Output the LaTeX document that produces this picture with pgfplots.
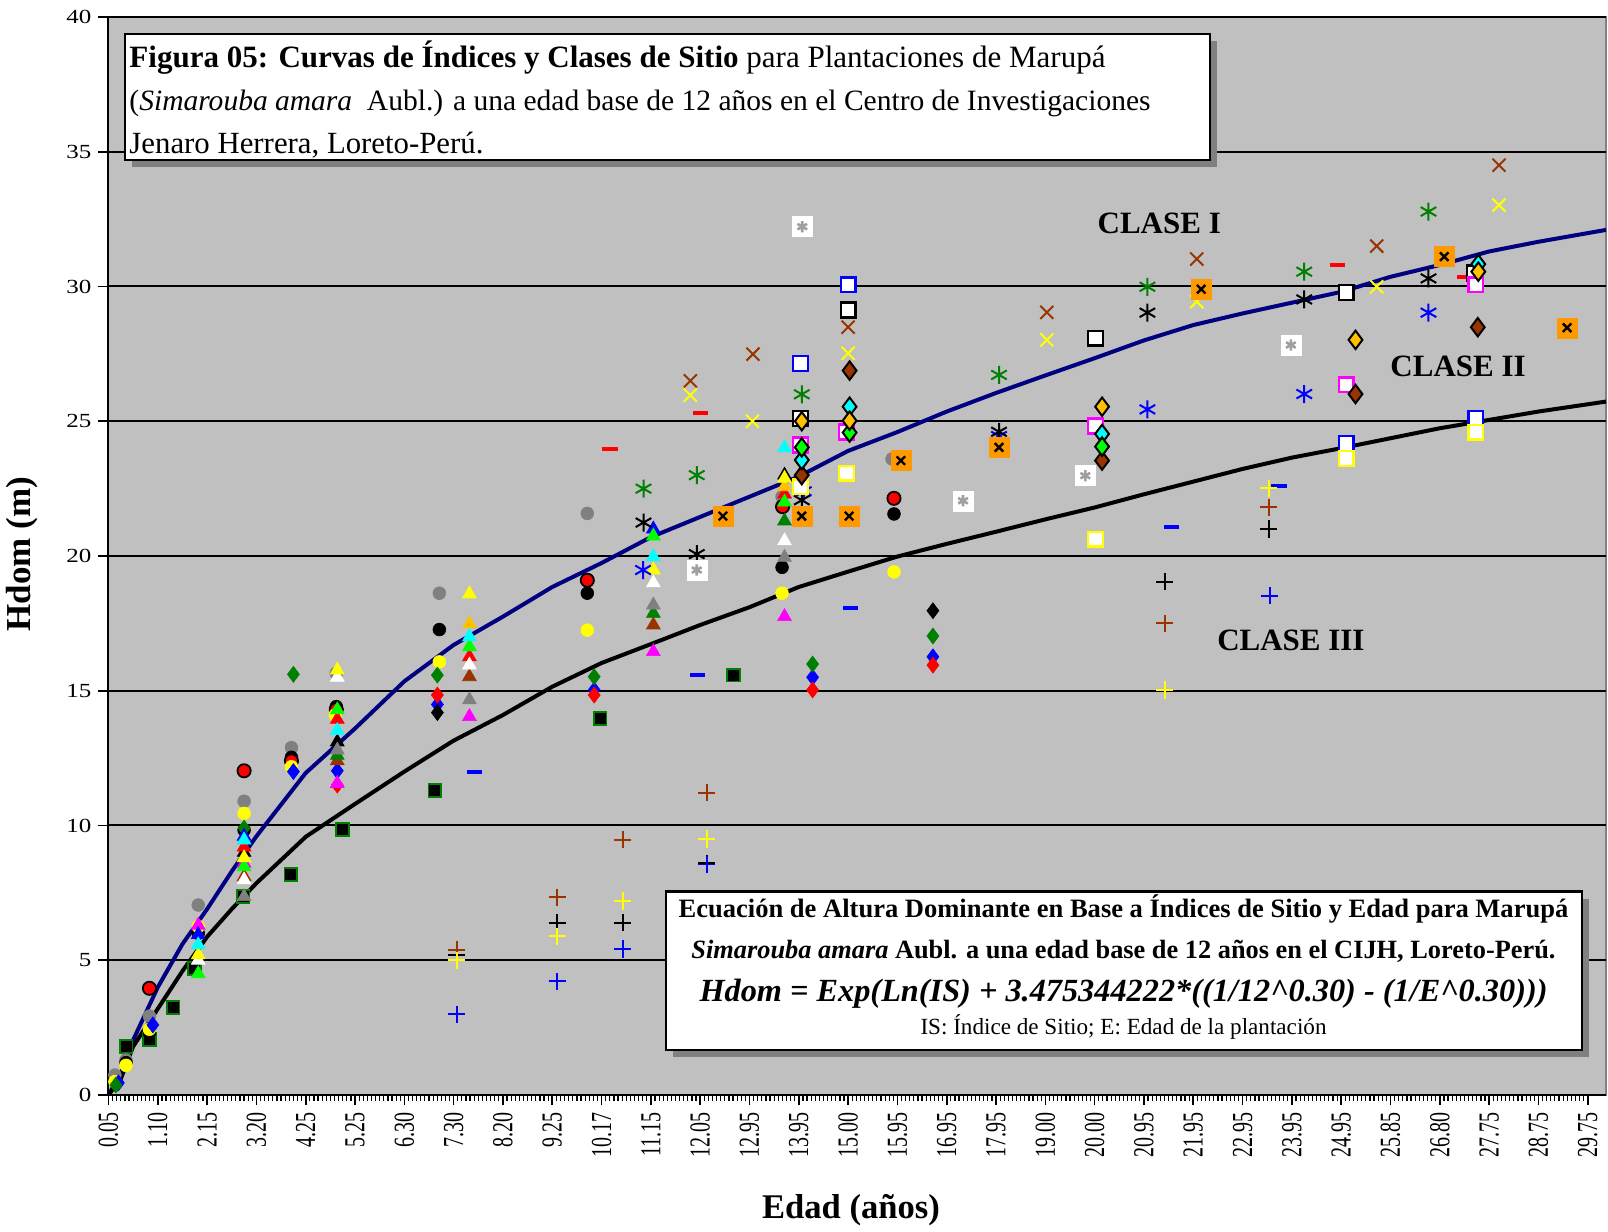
\documentclass[border=0pt]{standalone}
\usepackage{fontspec}
\setmainfont{Liberation Serif}
\usepackage{graphicx}
\usepackage{pgfplots}
\pgfplotsset{compat=1.18}

\definecolor{bgc}{HTML}{C0C0C0}
\definecolor{shad}{HTML}{808080}
\definecolor{navy}{HTML}{000080}
\definecolor{dgreen}{HTML}{008000}
\definecolor{lgreen}{HTML}{00FF00}
\definecolor{brn}{HTML}{993300}
\definecolor{gold}{HTML}{FFC000}
\definecolor{orng}{HTML}{FF9900}
\definecolor{gry}{HTML}{808080}
\definecolor{lgry}{HTML}{A0A0A0}
\definecolor{cyn}{HTML}{00FFFF}
\definecolor{mag}{HTML}{FF00FF}
\definecolor{yel}{HTML}{FFFF00}
\definecolor{blu}{HTML}{0000FF}
\definecolor{rd}{HTML}{FF0000}

\newcommand{\xl}[1]{\scalebox{1}[1.45]{#1}}
\newcommand{\yl}[1]{\scalebox{1.25}[1]{#1}}

\pgfplotsset{
 mcirc/.style={only marks, mark=*, mark size=3.2pt, mark options={solid, fill=#1, draw=#1, line width=0.3pt}},
 mcircb/.style={only marks, mark=*, mark size=3.3pt, mark options={solid, fill=#1, draw=black, line width=0.9pt}},
 mtri/.style={only marks, mark=triangle*, mark size=4pt, mark options={solid, fill=#1, draw=#1, line width=0.3pt}},
 mdia/.style={only marks, mark=diamond*, mark size=4pt, mark options={solid, fill=#1, draw=#1, line width=0.3pt}},
 mdiao/.style={only marks, mark=diamond*, mark size=4.6pt, mark options={solid, fill=#1, draw=black, line width=1pt}},
 msqo/.style={only marks, mark=square*, mark size=3.7pt, mark options={solid, fill=white, draw=#1, line width=1.2pt}},
 msqb/.style={only marks, mark=square*, mark size=3.2pt, mark options={solid, fill=black, draw=#1, line width=0.9pt}},
 msqf/.style={only marks, mark=square*, mark size=5pt, mark options={solid, fill=#1, draw=#1, line width=0.2pt}},
 mast/.style={only marks, mark=asterisk, mark size=4.5pt, mark options={solid, draw=#1, line width=1pt}},
 mx/.style={only marks, mark=x, mark size=4.6pt, mark options={solid, draw=#1, line width=1pt}},
 mplus/.style={only marks, mark=+, mark size=4.3pt, mark options={solid, draw=#1, line width=0.9pt}},
 mdash/.style={only marks, mark=-, mark size=3.8pt, mark options={solid, draw=#1, line width=2pt}},
}

\begin{document}
\begin{tikzpicture}
\useasboundingbox (-54.25pt,-68.5pt) rectangle (749.75pt,547.5pt);
\begin{axis}[
 at={(0,0)}, anchor=south west,
 scale only axis, width=748.75pt, height=539pt,
 xmin=0, xmax=30.37, ymin=0, ymax=40,
 axis background/.style={fill=bgc, draw=shad, line width=0.8pt},
 axis x line*=bottom, axis y line*=left,
 axis line style={line width=1pt, black, -},
 ytick={0,5,...,40},
 yticklabels={\yl{0},\yl{5},\yl{10},\yl{15},\yl{20},\yl{25},\yl{30},\yl{35},\yl{40}},
 ymajorgrids, grid style={black, line width=1pt},
 xtick={0,...,30},
 xticklabels={\xl{0.05},\xl{1.10},\xl{2.15},\xl{3.20},\xl{4.25},\xl{5.25},\xl{6.30},\xl{7.30},\xl{8.20},\xl{9.25},\xl{10.17},\xl{11.15},\xl{12.05},\xl{12.95},\xl{13.95},\xl{15.00},\xl{15.95},\xl{16.95},\xl{17.95},\xl{19.00},\xl{20.00},\xl{20.95},\xl{21.95},\xl{22.95},\xl{23.95},\xl{24.95},\xl{25.85},\xl{26.80},\xl{27.75},\xl{28.75},\xl{29.75}},
 minor x tick num=11,
 tick align=outside,
 major tick length=5pt, minor tick length=3pt,
 tick style={black, line width=0.8pt},
 minor tick style={black, line width=0.6pt},
 xticklabel style={rotate=90, anchor=east, font=\fontsize{10}{10}\selectfont, yshift=0pt},
 yticklabel style={font=\fontsize{10}{10}\selectfont},
 clip=false,
]
% curves
\addplot[navy, line width=2pt, no marks] coordinates {
(0,0) (0.25,0.8) (0.5,2.04) (1,4.0) (1.5,5.6) (2,6.9) (2.5,8.3) (3,9.6) (4,11.95) (5,13.6) (6,15.35) (7,16.7) (8,17.75) (9,18.85) (10,19.74) (11,20.7) (12,21.45) (13,22.2) (14,22.95) (15,23.9) (16,24.6) (17,25.36) (18,26.05) (19,26.7) (20,27.34) (21,28.0) (22,28.57) (23,29.0) (24,29.4) (25,29.8) (26,30.36) (27,30.8) (28,31.3) (29,31.66) (30.37,32.1)};
\addplot[black, line width=2pt, no marks] coordinates {
(0,0) (0.25,0.6) (0.5,1.8) (1,3.2) (1.5,4.6) (2,5.87) (2.5,6.9) (3,7.86) (4,9.58) (5,10.8) (6,12.0) (7,13.15) (8,14.1) (9,15.15) (10,16.03) (11,16.73) (12,17.44) (13,18.1) (14,18.85) (15,19.42) (16,19.98) (17,20.45) (18,20.9) (19,21.36) (20,21.8) (21,22.29) (22,22.76) (23,23.23) (24,23.65) (25,24.0) (26,24.37) (27,24.74) (28,25.05) (29,25.36) (30.37,25.73)};
% black squares with green border
\addplot[msqb=dgreen] coordinates {(0.355,1.8) (0.83,2.07) (1.31,3.25) (1.75,4.7) (2.73,7.36) (3.70,8.19) (4.75,9.86) (6.62,11.29) (9.97,13.98) (12.67,15.58)};
% circles
\addplot[mcirc=gry] coordinates {(0.13,0.74) (0.355,1.3) (0.83,2.93) (1.82,7.05) (2.75,10.9) (3.71,12.89) (4.62,15.65) (6.71,18.62) (9.71,21.58) (13.66,22.2) (15.89,23.6)};
\addplot[mcirc=black] coordinates {(0.355,1.2) (0.83,2.3) (1.82,6.0) (2.75,9.83) (3.71,12.53) (4.62,14.41) (6.71,17.27) (9.71,18.62) (13.66,19.58) (15.93,21.56)};
\addplot[mcircb=rd] coordinates {(0.83,3.96) (2.75,12.03) (3.71,12.4) (4.62,14.3) (9.71,19.1) (13.67,21.83) (15.93,22.14)};
\addplot[mcirc=yel] coordinates {(0.13,0.5) (0.355,1.1) (0.83,2.44) (1.82,6.25) (2.75,10.45) (3.71,12.18) (4.6,14.1) (6.71,16.07) (9.71,17.25) (13.66,18.62) (15.93,19.41)};
% plain diamonds
\addplot[mdia=blu] coordinates {(0.2,0.45) (0.9,2.6) (3.75,12.0) (4.64,12.03) (6.67,14.49) (9.85,15.03) (14.28,15.5) (16.72,16.26)};
\addplot[mdia=rd] coordinates {(4.64,11.5) (6.67,14.84) (9.85,14.84) (14.28,15.03) (16.72,15.95)};
\addplot[mdia=dgreen] coordinates {(0.15,0.37) (2.75,9.9) (3.75,15.61) (6.67,15.58) (9.85,15.52) (14.28,15.99) (16.72,17.03)};
\addplot[mdia=black] coordinates {(6.67,14.19) (16.72,17.97)};
% triangles
\addplot[mtri=black] coordinates {(2.75,9.0) (4.64,13.1) (13.71,23.0)};
\addplot[mtri=brn] coordinates {(2.75,8.1) (4.64,12.4) (7.32,15.52) (11.05,17.44)};
\addplot[mtri=dgreen] coordinates {(4.64,12.6) (11.05,17.87) (13.71,21.3)};
\addplot[mtri=gry] coordinates {(2.75,7.36) (4.64,12.8) (7.32,14.66) (11.05,18.18) (13.71,19.95)};
\addplot[mtri=mag] coordinates {(1.82,6.3) (2.75,8.6) (4.64,11.56) (7.32,14.04) (11.05,16.45) (13.71,17.75)};
\addplot[mtri=rd] coordinates {(2.75,9.2) (4.64,13.94) (7.32,16.26) (13.71,22.3)};
\addplot[mtri=white] coordinates {(1.82,5.0) (2.75,7.98) (4.64,15.5) (7.32,15.95) (11.05,19.0) (13.71,20.56)};
\addplot[mtri=blu] coordinates {(1.82,5.95) (2.75,9.6) (11.05,21.0)};
\addplot[mtri=lgreen] coordinates {(1.82,4.5) (2.75,8.47) (4.64,14.29) (7.32,16.63) (11.05,20.74) (13.71,22.0)};
\addplot[mtri=gold] coordinates {(7.32,17.48) (13.71,22.57)};
\addplot[mtri=yel] coordinates {(1.82,5.2) (2.75,8.8) (4.64,15.77) (7.32,18.59) (11.05,19.48) (13.71,22.88)};
\addplot[mtri=cyn] coordinates {(1.82,5.57) (2.75,9.46) (4.64,13.52) (7.32,17.0) (11.05,19.97) (13.71,24.01)};
% asterisks
\addplot[mast=dgreen] coordinates {(10.85,22.5) (11.93,23.0) (14.06,26.0) (18.06,26.72) (21.07,29.99) (24.25,30.55) (26.77,32.78)};
\addplot[mast=blu] coordinates {(10.84,19.48) (14.1,22.4) (18.06,24.45) (21.07,25.44) (24.25,26.01) (26.77,29.03)};
\addplot[mast=black] coordinates {(10.85,21.24) (11.93,20.07) (14.06,22.07) (18.06,24.61) (21.07,29.03) (24.25,29.52) (26.77,30.3)};
% x crosses
\addplot[mx=brn] coordinates {(11.8,26.5) (13.07,27.49) (15.0,28.49) (19.03,29.04) (22.07,31.02) (25.72,31.5) (28.2,34.5)};
\addplot[mx=yel] coordinates {(11.8,25.97) (13.06,25.0) (15.0,27.52) (19.03,28.02) (22.07,29.44) (25.72,29.99) (28.2,33.02)};
% dashes
\addplot[mdash=rd] coordinates {(10.17,23.96) (12.0,25.3) (24.92,30.8) (27.5,30.34)};
\addplot[mdash=blu] coordinates {(7.43,12.0) (11.95,15.58) (15.04,18.06) (21.56,21.09) (23.74,22.6)};
% plus
\addplot[mplus=black] coordinates {(7.06,5.2) (9.1,6.39) (10.43,6.39) (12.13,8.6) (21.42,19.04) (23.53,21.0)};
\addplot[mplus=brn] coordinates {(7.06,5.38) (9.1,7.34) (10.43,9.47) (12.13,11.21) (21.42,17.5) (23.53,21.81)};
\addplot[mplus=yel] coordinates {(7.06,5.0) (9.1,5.89) (10.43,7.2) (12.13,9.5) (21.42,15.03) (23.53,22.51)};
\addplot[mplus=blu] coordinates {(7.06,3.0) (9.1,4.22) (10.43,5.42) (12.13,8.55) (23.55,18.53)};
% orange squares with x
\addplot[msqf=orng] coordinates {(12.46,21.48) (14.06,21.48) (15.02,21.48) (16.07,23.54) (18.06,24.03) (22.16,29.9) (27.09,31.11) (29.58,28.47)};
\addplot[only marks, mark=x, mark size=3pt, mark options={solid, draw=black, line width=1.2pt}] coordinates {(12.46,21.48) (14.06,21.48) (15.02,21.48) (16.07,23.54) (18.06,24.03) (22.16,29.9) (27.09,31.11) (29.58,28.47)};
% white squares with gray asterisk
\addplot[msqf=white] coordinates {(11.93,19.48) (14.07,32.22) (17.33,22.05) (19.81,22.98) (23.98,27.83)};
\addplot[only marks, mark=asterisk, mark size=2.8pt, mark options={solid, draw=lgry, line width=1.3pt}] coordinates {(11.93,19.48) (14.07,32.22) (17.33,22.05) (19.81,22.98) (23.98,27.83)};
% open squares
\addplot[msqo=black] coordinates {(14.03,25.1) (15.0,29.13) (20.02,28.08) (25.1,29.77) (27.7,30.5)};
\addplot[msqo=blu] coordinates {(14.03,27.15) (15.0,30.06) (25.1,24.18) (27.73,25.11)};
\addplot[msqo=mag] coordinates {(14.03,24.12) (14.97,24.6) (20.02,24.82) (25.1,26.35) (27.73,30.06)};
\addplot[msqo=yel] coordinates {(14.03,22.57) (14.97,23.07) (20.02,20.62) (25.1,23.62) (27.73,24.59)};
% outlined diamonds
\addplot[mdiao=brn] coordinates {(14.06,23.0) (15.03,26.88) (20.15,23.54) (25.29,26.01) (27.77,28.49)};
\addplot[mdiao=cyn] coordinates {(14.06,23.56) (15.03,25.54) (20.15,24.53) (27.78,30.83)};
\addplot[mdiao=lgreen] coordinates {(14.06,24.03) (15.03,24.58) (20.15,24.06)};
\addplot[mdiao=gold] coordinates {(14.06,25.0) (15.03,25.02) (20.15,25.54) (25.29,28.02) (27.78,30.55)};
% class labels
\node[font=\bfseries\fontsize{15.5}{16}\selectfont] at (axis cs:21.31,32.35) {CLASE I};
\node[font=\bfseries\fontsize{15.5}{16}\selectfont] at (axis cs:27.37,27.05) {CLASE II};
\node[font=\bfseries\fontsize{15.5}{16}\selectfont] at (axis cs:23.98,16.88) {CLASE III};
\end{axis}
% axis titles
\node[font=\bfseries\fontsize{17.5}{18}\selectfont, rotate=90] at (-43pt,270.5pt) {Hdom (m)};
\node[font=\bfseries\fontsize{17.3}{18}\selectfont] at (371.25pt,-57.5pt) {Edad (años)};
% title box
\fill[shad] (11.75pt,464pt) rectangle (554.25pt,527pt);
\filldraw[fill=white, draw=black, line width=1.2pt] (8.25pt,467.5pt) rectangle (550.75pt,530.5pt);
\node[anchor=base west, inner sep=0pt] at (10.3pt,513.6pt) {\resizebox{488pt}{!}{\fontsize{13}{15}\selectfont\textbf{Figura 05: Curvas de Índices y Clases de Sitio} para Plantaciones de Marupá}};
\node[anchor=base west, inner sep=0pt] at (10.3pt,492.1pt) {\resizebox{510.5pt}{!}{\fontsize{13}{15}\selectfont(\textit{Simarouba amara}\ \ Aubl.) a una edad base de 12 años en el Centro de Investigaciones}};
\node[anchor=base west, inner sep=0pt] at (10.3pt,470.6pt) {\resizebox{177pt}{!}{\fontsize{13}{15}\selectfont Jenaro Herrera, Loreto-Perú.}};
% equation box
\fill[shad] (282.25pt,19pt) rectangle (740.25pt,98.15pt);
\filldraw[fill=white, draw=black, line width=1.2pt] (278.75pt,22.5pt) rectangle (736.75pt,101.65pt);
\node[anchor=base, inner sep=0pt] at (507.5pt,88.6pt) {\resizebox{444.8pt}{!}{\fontsize{11.3}{13}\selectfont\bfseries Ecuación de Altura Dominante en Base a Índices de Sitio y Edad para Marupá}};
\node[anchor=base, inner sep=0pt] at (507.5pt,68.35pt) {\resizebox{432pt}{!}{\fontsize{11.3}{13}\selectfont\bfseries \textit{Simarouba amara} Aubl. a una edad base de 12 años en el CIJH, Loreto-Perú.}};
\node[anchor=base, inner sep=0pt] at (507.5pt,46.6pt) {\resizebox{424pt}{!}{\fontsize{15}{17}\selectfont\bfseries\itshape Hdom = Exp(Ln(IS) + 3.475344222*((1/12\textasciicircum 0.30) - (1/E\textasciicircum 0.30)))}};
\node[anchor=base, inner sep=0pt] at (507.5pt,30pt) {\resizebox{203pt}{!}{\fontsize{8}{9}\selectfont IS: Índice de Sitio; E: Edad de la plantación}};
\end{tikzpicture}
\end{document}
